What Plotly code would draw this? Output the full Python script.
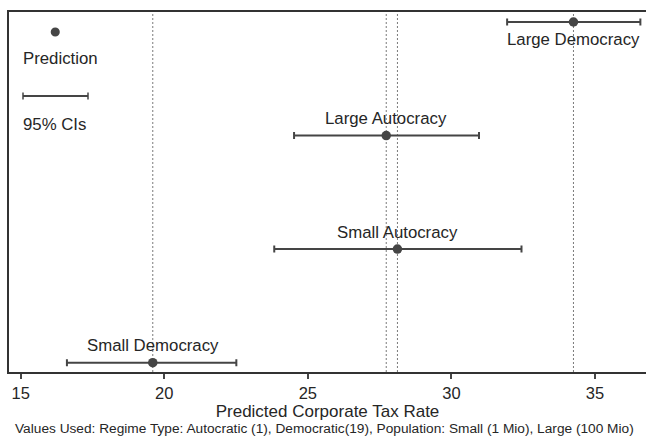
import plotly.graph_objects as go

# Predicted corporate tax rates with 95% confidence intervals
scenarios = ["Small Democracy", "Small Autocracy", "Large Autocracy", "Large Democracy"]
positions = [1, 2, 3, 4]
prediction = [19.6, 28.12, 27.73, 34.25]
ci_low = [16.61, 23.83, 24.52, 31.94]
ci_high = [22.51, 32.44, 30.96, 36.58]
label_side = ["above", "above", "above", "below"]

x_ticks = [15, 20, 25, 30, 35]
x_title = "Predicted Corporate Tax Rate"
note = ("Values Used: Regime Type: Autocratic (1), Democratic(19), "
        "Population: Small (1 Mio), Large (100 Mio)")

FONT = "Liberation Sans, Arial, Helvetica, sans-serif"
INK = "#454545"
TEXT = "#262626"
LABEL_SIZE = 16.8

# plot area in pixels, used to place the key
L, T, W, H = 9, 12, 637, 360


def px(x):
    return (x - L) / W


def py(y):
    return (T + H - y) / H


fig = go.Figure()

# reference lines at each predicted value
for v in prediction:
    fig.add_shape(type="line", x0=v, x1=v, xref="x", y0=0, y1=1, yref="paper",
                  line=dict(color="#7a7a7a", width=1, dash="2px,2px"), layer="below")

fig.add_trace(go.Scatter(
    x=prediction, y=positions, mode="markers",
    marker=dict(size=9.5, color=INK),
    error_x=dict(type="data", symmetric=False,
                 array=[h - p for h, p in zip(ci_high, prediction)],
                 arrayminus=[p - l for p, l in zip(prediction, ci_low)],
                 color=INK, thickness=2, width=3.5),
    showlegend=False, hoverinfo="skip", cliponaxis=False,
))

for name, p, y, side in zip(scenarios, prediction, positions, label_side):
    fig.add_annotation(x=p, y=y, text=name, showarrow=False,
                       yshift=17 if side == "above" else -18,
                       font=dict(family=FONT, size=LABEL_SIZE, color=TEXT))

# key in the upper-left corner
fig.add_shape(type="circle", xref="paper", yref="paper",
              x0=px(50.7), x1=px(59.8), y0=py(36.5), y1=py(27.4),
              fillcolor=INK, line=dict(color=INK, width=0))
fig.add_annotation(xref="paper", yref="paper", x=px(21), y=py(58),
                   xanchor="left", yanchor="middle", text="Prediction", showarrow=False,
                   font=dict(family=FONT, size=LABEL_SIZE, color=TEXT))
fig.add_shape(type="line", xref="paper", yref="paper",
              x0=px(23), x1=px(88), y0=py(96), y1=py(96),
              line=dict(color=INK, width=2))
for xe in (23, 88):
    fig.add_shape(type="line", xref="paper", yref="paper",
                  x0=px(xe), x1=px(xe), y0=py(99.5), y1=py(92.5),
                  line=dict(color=INK, width=1.5))
fig.add_annotation(xref="paper", yref="paper", x=px(21), y=py(124),
                   xanchor="left", yanchor="middle", text="95% CIs", showarrow=False,
                   font=dict(family=FONT, size=LABEL_SIZE, color=TEXT))

fig.add_annotation(xref="paper", yref="paper", x=px(324), y=py(429),
                   xanchor="center", yanchor="middle", text=note, showarrow=False,
                   font=dict(family=FONT, size=13.7, color=TEXT))

fig.update_layout(
    width=646, height=437,
    margin=dict(l=L, r=0, t=T, b=437 - T - H),
    paper_bgcolor="white", plot_bgcolor="white",
    font=dict(family=FONT, color=TEXT),
    xaxis=dict(range=[14.593, 36.776], tickvals=x_ticks, ticks="outside", ticklen=5,
               tickwidth=1.5, tickcolor=INK, showgrid=False, zeroline=False,
               showline=True, linecolor="#333333", linewidth=2, mirror=True,
               tickfont=dict(size=16.5, color=TEXT),
               title=dict(text=x_title, font=dict(size=17, color=TEXT), standoff=4)),
    yaxis=dict(range=[0.918, 4.088], showticklabels=False, ticks="", showgrid=False,
               zeroline=False, showline=True, linecolor="#333333", linewidth=2),
)

fig.write_html("out.html")
